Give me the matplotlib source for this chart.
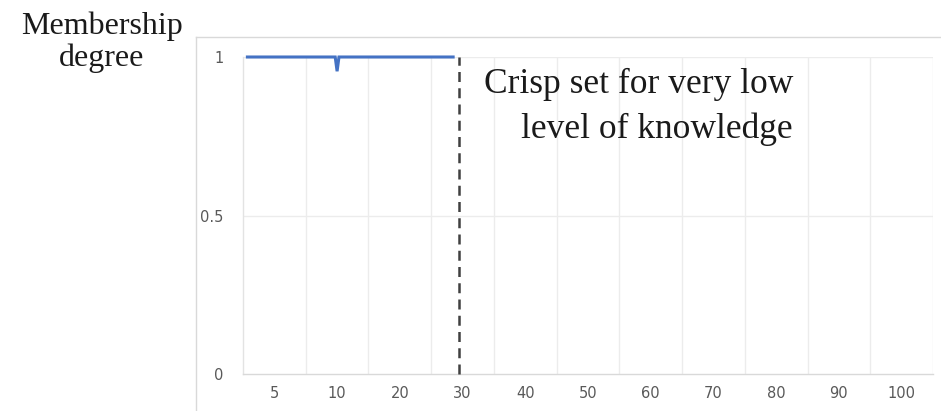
import matplotlib
matplotlib.use("Agg")
import matplotlib.pyplot as plt
from matplotlib.lines import Line2D

# category axis labels (knowledge level)
categories = ["5", "10", "20", "30", "40", "50", "60", "70", "80", "90", "100"]

# membership curve, x in category units (0 = left edge of plot area)
curve_x = [0.07, 1.47, 1.5, 1.53, 3.35]
curve_y = [1.0, 1.0, 0.955, 1.0, 1.0]

# crisp boundary (category "30")
crisp_x = 3.45

W, H = 941, 411
fig = plt.figure(figsize=(W / 100, H / 100), dpi=100)

# plot area in pixels: left 243, right 933, top 57, bottom 374
ax = fig.add_axes([243 / W, 1 - 374 / H, (933 - 243) / W, (374 - 57) / H])
ax.set_xlim(0, len(categories))
ax.set_ylim(0, 1)

ax.set_xticks([i + 0.5 for i in range(len(categories))])
ax.set_xticklabels(categories)
ax.set_yticks([0, 0.5, 1])
ax.set_yticklabels(["0", "0.5", "1"])
ax.tick_params(length=0, labelsize=10.5, labelcolor="#595959")
ax.tick_params(axis="x", pad=8.5)
ax.tick_params(axis="y", pad=14)

# gridlines: category boundaries and value lines
for i in range(1, len(categories) + 1):
    ax.axvline(i, color="#ececec", lw=1, zorder=0)
for v in [0.5, 1]:
    ax.axhline(v, color="#ececec", lw=1, zorder=0)

for s in ["top", "right"]:
    ax.spines[s].set_visible(False)
ax.spines["left"].set_color("#e3e3e3")
ax.spines["bottom"].set_color("#d9d9d9")
ax.spines["left"].set_linewidth(1)
ax.spines["bottom"].set_linewidth(1)

ax.plot(curve_x, curve_y, color="#4472c4", lw=2.2, solid_joinstyle="miter", clip_on=False, zorder=3)
ax.plot([crisp_x, crisp_x], [0, 1], color="#404040", lw=1.8, dashes=(4, 2.5), clip_on=False, zorder=4)

# chart area border
fig.add_artist(Line2D([196 / W, 196 / W], [0, 1 - 37 / H], color="#d9d9d9", lw=1))
fig.add_artist(Line2D([196 / W, 1], [1 - 37 / H, 1 - 37 / H], color="#d9d9d9", lw=1))

serif = "Liberation Serif"
fig.text(102 / W, 1 - 34 / H, "Membership", family=serif, fontsize=23, ha="center", va="baseline", color="#1a1a1a")
fig.text(102 / W, 1 - 66 / H, "degree", family=serif, fontsize=23, ha="center", va="baseline", color="#1a1a1a")

fig.text(793 / W, 1 - 93 / H, "Crisp set for very low", family=serif, fontsize=25.5, ha="right", va="baseline", color="#1a1a1a")
fig.text(793 / W, 1 - 138 / H, "level of knowledge", family=serif, fontsize=25.5, ha="right", va="baseline", color="#1a1a1a")

fig.savefig("out.png", dpi=100)
